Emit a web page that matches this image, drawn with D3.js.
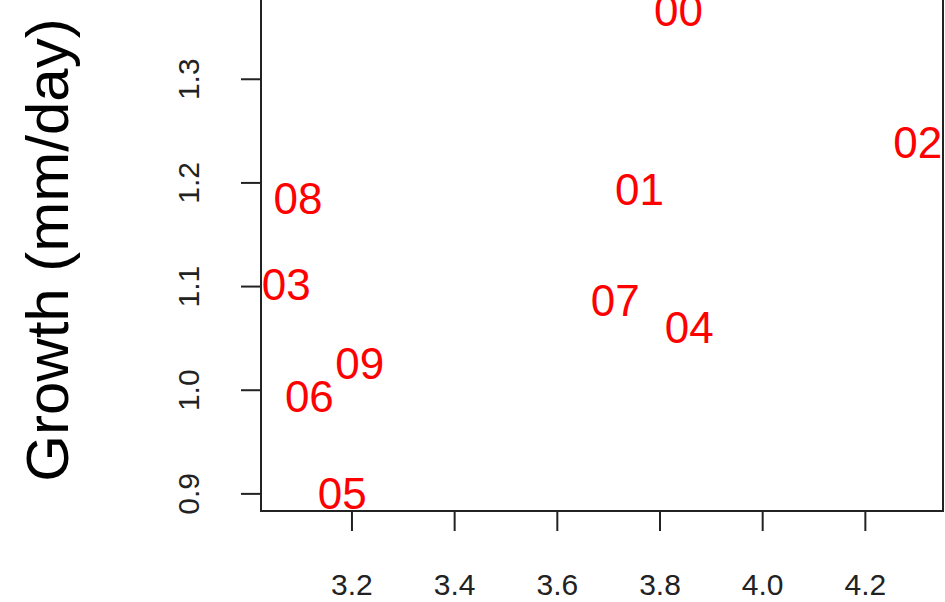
<!DOCTYPE html>
<html>
<head>
<meta charset="utf-8">
<script src="https://cdn.jsdelivr.net/npm/d3@7"></script>
<style>
  html, body { margin: 0; padding: 0; background: #fff; }
  svg { display: block; font-family: "Liberation Sans", Arial, sans-serif; }
</style>
</head>
<body>
<svg id="chart" width="945" height="602"></svg>
<script>
// Year labels with mean temperature (x) and growth rate (y)
const years  = ["00", "01", "02", "03", "04", "05", "06", "07", "08", "09"];
const temp   = [3.837, 3.761, 4.303, 3.073, 3.858, 3.182, 3.118, 3.714, 3.096, 3.216];
const growth = [1.366, 1.193, 1.239, 1.102, 1.060, 0.900, 0.994, 1.086, 1.185, 1.026];

const xTicks = [3.2, 3.4, 3.6, 3.8, 4.0, 4.2];
const yTicks = [0.9, 1.0, 1.1, 1.2, 1.3];
const yTitle = "Growth (mm/day)";

const svg = d3.select("#chart");

// Plot region
const plotLeft = 261, plotRight = 943, plotBottom = 511, plotTop = -11;

// x limits padded by 4% of the data range on each side
const [xMin, xMax] = d3.extent(temp);
const xPad = 0.04 * (xMax - xMin);
const x = d3.scaleLinear().domain([xMin - xPad, xMax + xPad]).range([plotLeft, plotRight]);

const y = d3.scaleLinear().domain([0.883, 1.3866]).range([plotBottom, plotTop]);

const fmt = d3.format(".1f");

// Bottom axis
const gx = svg.append("g")
  .attr("transform", `translate(0,${plotBottom})`)
  .call(d3.axisBottom(x).tickValues(xTicks).tickFormat(fmt).tickSize(20).tickSizeOuter(0));
gx.select(".domain").remove();
gx.selectAll(".tick line").attr("stroke", "#222").attr("stroke-width", 2);
gx.selectAll(".tick text")
  .attr("y", 84).attr("dy", 0)
  .attr("fill", "#222")
  .style("font-size", "30px");

// Left axis with rotated labels
const gy = svg.append("g")
  .attr("transform", `translate(${plotLeft},0)`)
  .call(d3.axisLeft(y).tickValues(yTicks).tickFormat(fmt).tickSize(20).tickSizeOuter(0));
gy.select(".domain").remove();
gy.selectAll(".tick line").attr("stroke", "#222").attr("stroke-width", 2);
gy.selectAll(".tick text")
  .attr("x", 0).attr("dy", 0)
  .attr("text-anchor", "middle")
  .attr("transform", "translate(-62,0) rotate(-90)")
  .attr("fill", "#222")
  .style("font-size", "30px");

// Frame
svg.append("rect")
  .attr("x", plotLeft).attr("y", plotTop)
  .attr("width", plotRight - plotLeft).attr("height", plotBottom - plotTop)
  .attr("fill", "none").attr("stroke", "#222").attr("stroke-width", 2);

// Axis title
svg.append("text")
  .attr("transform", `translate(68,${(plotTop + plotBottom) / 2}) rotate(-90)`)
  .attr("text-anchor", "middle")
  .attr("fill", "#000")
  .style("font-size", "60px")
  .text(yTitle);

// Year labels at each point
const fs = 44;
svg.append("g").selectAll("text")
  .data(years.map((d, i) => ({ label: d, t: temp[i], g: growth[i] })))
  .join("text")
  .attr("x", d => x(d.t))
  .attr("y", d => y(d.g) + 0.358 * fs)
  .attr("text-anchor", "middle")
  .attr("fill", "#ff0000")
  .style("font-size", fs + "px")
  .text(d => d.label);
</script>
</body>
</html>
